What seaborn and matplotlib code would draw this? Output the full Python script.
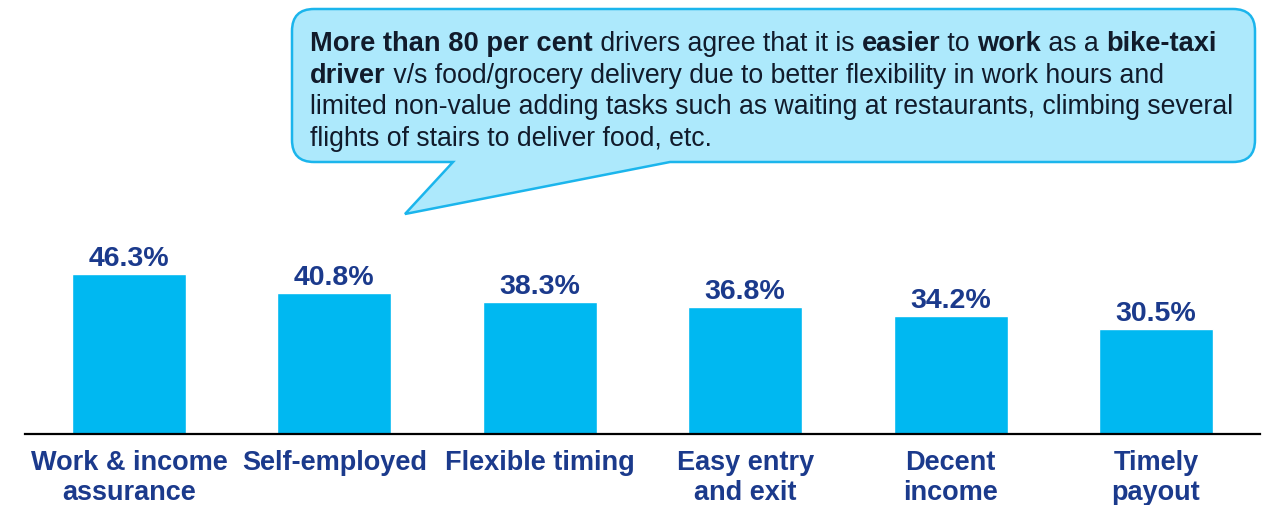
import matplotlib
matplotlib.use("Agg")
import matplotlib.pyplot as plt
import matplotlib.transforms as mtransforms
from matplotlib.path import Path
from matplotlib.patches import PathPatch
import seaborn as sns

# Reasons drivers give for preferring bike-taxi work
categories = ["Work & income\nassurance", "Self-employed", "Flexible timing",
              "Easy entry\nand exit", "Decent\nincome", "Timely\npayout"]
values = [46.3, 40.8, 38.3, 36.8, 34.2, 30.5]
value_labels = [f"{v:.1f}%" for v in values]

# Callout text, split into (text, is_bold) runs per line
callout_lines = [
    [("More than 80 per cent", True), (" drivers agree that it is ", False),
     ("easier", True), (" to ", False), ("work", True), (" as a ", False),
     ("bike-taxi", True)],
    [("driver", True), (" v/s food/grocery delivery due to better flexibility in work hours and", False)],
    [("limited non-value adding tasks such as waiting at restaurants, climbing several", False)],
    [("flights of stairs to deliver food, etc.", False)],
]

BAR_COLOR = "#00B8F1"
NAVY = "#1B3A8C"
TEXT_DARK = "#111B2B"
BUBBLE_FILL = "#ADE9FC"
BUBBLE_EDGE = "#1BB5EC"

W, H = 1263, 506
sns.set_theme(style="white")
plt.rcParams["font.family"] = ["Liberation Sans", "DejaVu Sans"]

fig = plt.figure(figsize=(W / 100, H / 100), dpi=100)
ax = fig.add_axes([25 / W, (H - 435) / H, 1235 / W, 435 / H])

sns.barplot(x=categories, y=values, color=BAR_COLOR, width=0.555,
            saturation=1, ax=ax)
ax.set_xlim(-0.506, 5.506)
ax.set_ylim(0, 126)

ax.bar_label(ax.containers[0], labels=value_labels, padding=2,
             fontsize=20.5, fontweight="bold", color=NAVY)

for side in ["top", "left", "right"]:
    ax.spines[side].set_visible(False)
ax.spines["bottom"].set_color("black")
ax.spines["bottom"].set_linewidth(1.6)
ax.set_yticks([])
ax.set_xlabel("")
ax.set_ylabel("")
ax.tick_params(axis="x", length=0, pad=10.5, labelsize=19.5, colors=NAVY)
for lbl in ax.get_xticklabels():
    lbl.set_fontweight("bold")
    lbl.set_linespacing(1.2)

# Speech bubble, drawn in image pixel coordinates (origin top-left)
pix = mtransforms.Affine2D().scale(1 / W, -1 / H).translate(0, 1) + fig.transFigure
x0, x1, top, bot, r = 292, 1255, 10, 163, 22
tip = (405, 215)
base_l, base_r = 453, 670
verts = [
    (x0 + r, top), (x1 - r, top),
    (x1, top), (x1, top + r),
    (x1, bot - r),
    (x1, bot), (x1 - r, bot),
    (base_r, bot), tip, (base_l, bot),
    (x0 + r, bot),
    (x0, bot), (x0, bot - r),
    (x0, top + r),
    (x0, top), (x0 + r, top),
    (x0 + r, top),
]
codes = [Path.MOVETO, Path.LINETO,
         Path.CURVE3, Path.CURVE3,
         Path.LINETO,
         Path.CURVE3, Path.CURVE3,
         Path.LINETO, Path.LINETO, Path.LINETO,
         Path.LINETO,
         Path.CURVE3, Path.CURVE3,
         Path.LINETO,
         Path.CURVE3, Path.CURVE3,
         Path.CLOSEPOLY]
bubble = PathPatch(Path(verts, codes), facecolor=BUBBLE_FILL,
                   edgecolor=BUBBLE_EDGE, linewidth=1.8, transform=pix,
                   zorder=5)
fig.patches.append(bubble)

# Mixed-weight text runs laid out left to right
renderer = fig.canvas.get_renderer()
baselines = [51, 83, 114, 146]
x_start = 310
for line, yb in zip(callout_lines, baselines):
    x = x_start
    for txt, bold in line:
        t = fig.text(x, yb, txt, transform=pix,
                     fontsize=19.6 if bold else 19.2,
                     fontweight="bold" if bold else "normal",
                     color=TEXT_DARK, ha="left", va="baseline", zorder=6)
        bb = t.get_window_extent(renderer=renderer)
        x += bb.width

fig.savefig("out.png", dpi=100)
